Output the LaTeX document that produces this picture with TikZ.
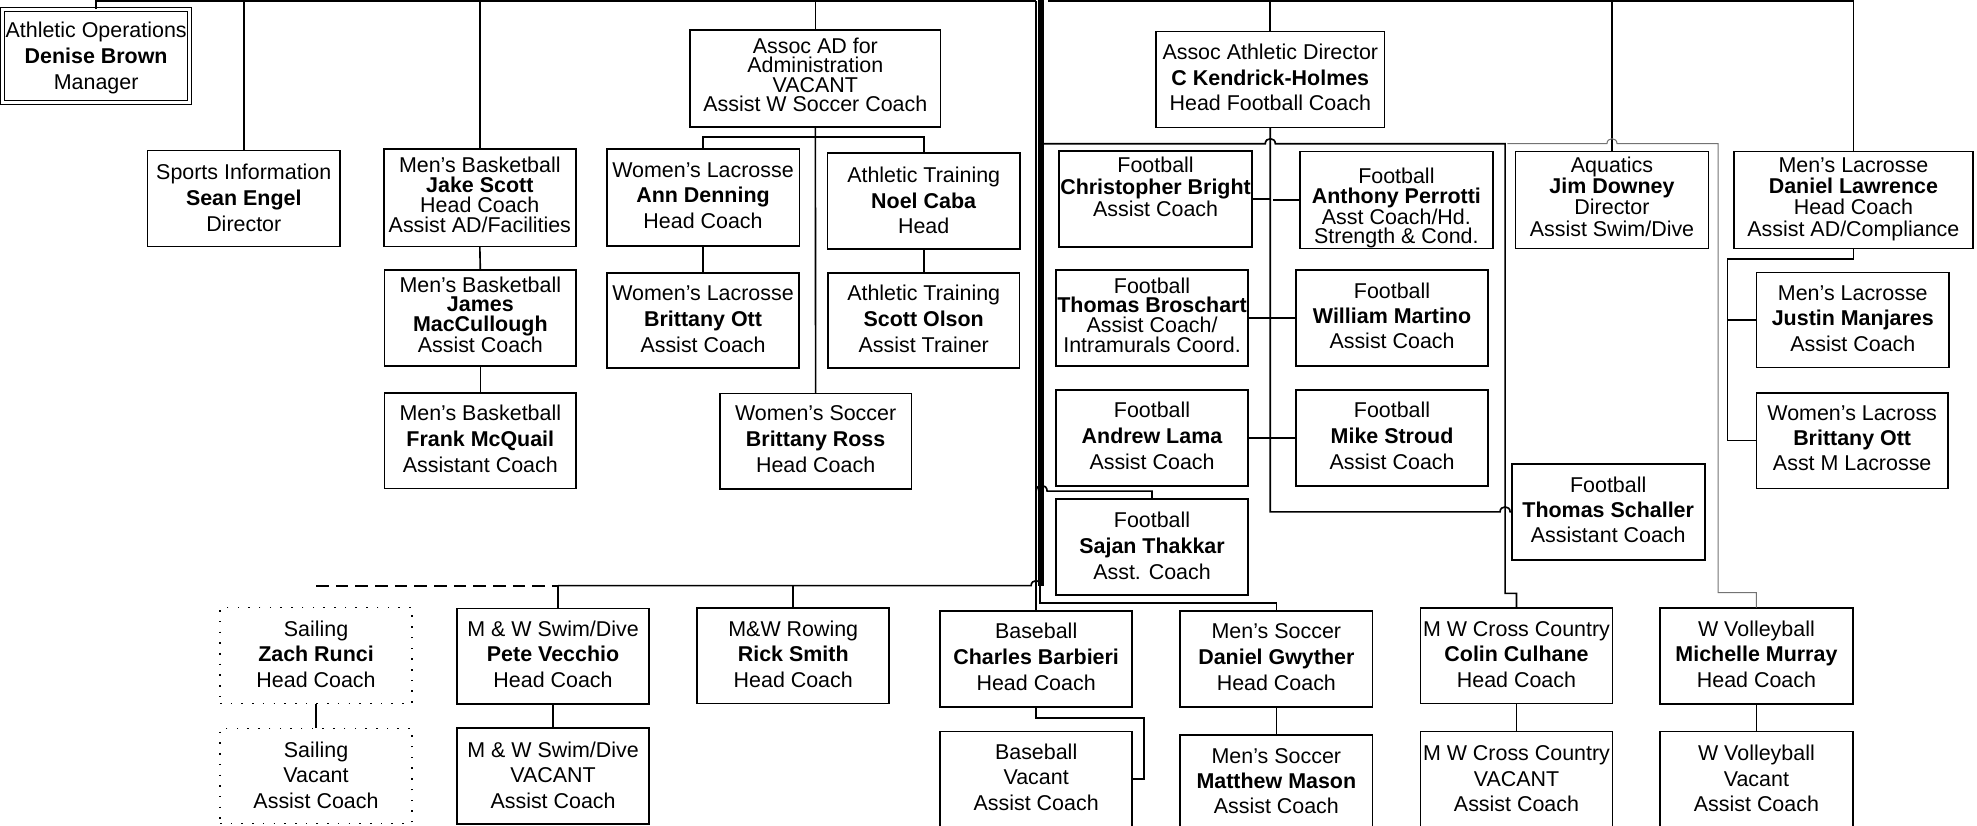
\documentclass[tikz,border=0pt]{standalone}
\usepackage{fontspec}
\setmainfont{Liberation Sans}
\tikzset{
  conn/.style={draw, line width=1.3pt},
  obox/.style={draw, line width=1.3pt, inner sep=0pt, outer sep=0pt},
  dbox/.style={draw, line width=1.1pt, double, double distance=2pt, inner sep=0pt, outer sep=0pt},
  sbox/.style={draw, line width=1.2pt, dash pattern=on 1.2pt off 7.3pt, inner sep=0pt, outer sep=0pt},
  txt/.style={align=center, inner sep=0pt, outer sep=0pt},
  heavyline/.style={line width=4.6pt},
  greyline/.style={draw=black!55, line width=0.8pt},
  dashbus/.style={line width=1.5pt, dash pattern=on 10pt off 5.6pt},
}
% #1 style, #2 name, #3 x1, #4 y1, #5 x2, #6 y2, #7 baselineskip, #8 text centre y, #9 text
\newcommand\ob[9]{%
  \node[#1, minimum width={(#5)-(#3)}, minimum height={(#6)-(#4)}] (#2) at ({((#3)+(#5))/2},{((#4)+(#6))/2}) {};
  \node[txt, font=\fontsize{17}{#7}\selectfont] (#2-t) at ({((#3)+(#5))/2},#8) {\rule{0pt}{12.5pt}#9\rule[-3.6pt]{0pt}{3.6pt}};
}
\begin{document}
\begin{tikzpicture}[x=1pt,y=-1pt]
\useasboundingbox (0,0) rectangle (1568,655);

% ---------- boxes ----------
\ob{dbox}{athops}{2.1}{7.5}{150.4}{81.2}{20.5}{45.85}{Athletic Operations\\\textbf{Denise Brown}\\Manager}
\ob{obox}{sinfo}{117}{119.5}{269.7}{195.6}{20.5}{158.55}{Sports Information\\\textbf{Sean Engel}\\Director}
\ob{obox}{jake}{304.4}{118.4}{456.7}{195.6}{16}{156.05}{Men’s Basketball\\\textbf{Jake Scott}\\Head Coach\\Assist AD/Facilities}
\ob{obox}{james}{304.9}{214.1}{457}{290.3}{15.5}{251.3}{Men’s Basketball\\\textbf{James}\\\textbf{MacCullough}\\Assist Coach}
\ob{obox}{frank}{304.9}{311.5}{457}{387.3}{20.5}{349.55}{Men’s Basketball\\\textbf{Frank McQuail}\\Assistant Coach}
\ob{obox}{assocad}{547.3}{23.8}{746}{100.5}{15.3}{61}{Assoc AD for\\Administration\\VACANT\\Assist W Soccer Coach}
\ob{obox}{wlaxa}{481.2}{118.4}{634}{195.1}{20.5}{156.55}{Women’s Lacrosse\\\textbf{Ann Denning}\\Head Coach}
\ob{obox}{ata}{656.2}{121.6}{809}{197.7}{20.5}{160.55}{Athletic Training\\\textbf{Noel Caba}\\Head}
\ob{obox}{wlaxb}{481.5}{216.3}{633.7}{292.1}{20.5}{254.55}{Women’s Lacrosse\\\textbf{Brittany Ott}\\Assist Coach}
\ob{obox}{atb}{656.5}{216.3}{808.7}{292.1}{20.5}{254.55}{Athletic Training\\\textbf{Scott Olson}\\Assist Trainer}
\ob{obox}{wsoc}{570.8}{312}{723}{388}{20.5}{349.55}{Women’s Soccer\\\textbf{Brittany Ross}\\Head Coach}
\ob{obox}{kendrick}{917}{25}{1098}{101}{20}{63.05}{Assoc Athletic Director\\\textbf{C Kendrick-Holmes}\\Head Football Coach}
\ob{obox}{bright}{840}{120}{993}{196}{17.5}{149.55}{Football\\\textbf{Christopher Bright}\\Assist Coach}
\ob{obox}{perrotti}{1031}{120.3}{1184}{197}{15.3}{165}{Football\\\textbf{Anthony Perrotti}\\Asst Coach/Hd.\\Strength \& Cond.}
\ob{obox}{broschart}{837.6}{214.1}{989.8}{290.3}{15.7}{251.6}{Football\\\textbf{Thomas Broschart}\\Assist Coach/\\Intramurals Coord.}
\ob{obox}{martino}{1027.9}{214.1}{1180.2}{290.3}{20}{252.05}{Football\\\textbf{William Martino}\\Assist Coach}
\ob{obox}{lama}{837.6}{309.3}{989.8}{385.5}{20.5}{347.55}{Football\\\textbf{Andrew Lama}\\Assist Coach}
\ob{obox}{stroud}{1027.9}{309.3}{1180.2}{385.5}{20.5}{347.55}{Football\\\textbf{Mike Stroud}\\Assist Coach}
\ob{obox}{thakkar}{837.6}{396}{989.8}{472}{20.5}{434.55}{Football\\\textbf{Sajan Thakkar}\\Asst. Coach}
\ob{obox}{schaller}{1199}{368}{1352}{444}{20}{406.05}{Football\\\textbf{Thomas Schaller}\\Assistant Coach}
\ob{obox}{aquatics}{1202}{120.3}{1355}{197}{17}{157.55}{Aquatics\\\textbf{Jim Downey}\\Director\\Assist Swim/Dive}
\ob{obox}{lawrence}{1375.3}{120.3}{1564.6}{197}{17}{157.55}{Men’s Lacrosse\\\textbf{Daniel Lawrence}\\Head Coach\\Assist AD/Compliance}
\ob{obox}{manjares}{1393}{216}{1546}{291.6}{20}{254.05}{Men’s Lacrosse\\\textbf{Justin Manjares}\\Assist Coach}
\ob{obox}{wlaxc}{1393}{311.5}{1545}{387.3}{20}{349.05}{Women’s Lacross\\\textbf{Brittany Ott}\\Asst M Lacrosse}
\ob{sbox}{saila}{174.5}{482}{326.8}{558}{20.5}{520.55}{Sailing\\\textbf{Zach Runci}\\Head Coach}
\ob{sbox}{sailb}{174.5}{577.7}{326.8}{653}{20.5}{616.55}{Sailing\\Vacant\\Assist Coach}
\ob{obox}{swima}{362.5}{482.5}{514.8}{558.4}{20.5}{520.55}{M \& W Swim/Dive\\\textbf{Pete Vecchio}\\Head Coach}
\ob{obox}{swimb}{362.5}{577.5}{514.8}{653.5}{20.5}{616.55}{M \& W Swim/Dive\\VACANT\\Assist Coach}
\ob{obox}{rowing}{553}{482}{705.3}{558}{20.5}{520.55}{M\&W Rowing\\\textbf{Rick Smith}\\Head Coach}
\ob{obox}{basea}{745.6}{484.6}{898}{560.5}{20.5}{522.55}{Baseball\\\textbf{Charles Barbieri}\\Head Coach}
\ob{obox}{baseb}{745.6}{580.3}{898}{662}{20}{618.05}{Baseball\\Vacant\\Assist Coach}
\ob{obox}{msoca}{936}{484.6}{1088.6}{560.5}{20.5}{522.55}{Men’s Soccer\\\textbf{Daniel Gwyther}\\Head Coach}
\ob{obox}{msocb}{936}{583}{1088.6}{662}{20}{621.05}{Men’s Soccer\\\textbf{Matthew Mason}\\Assist Coach}
\ob{obox}{xca}{1126.5}{482}{1279}{558}{20.5}{520.55}{M W Cross Country\\\textbf{Colin Culhane}\\Head Coach}
\ob{obox}{xcb}{1126.5}{580.3}{1279}{662}{20}{619.05}{M W Cross Country\\VACANT\\Assist Coach}
\ob{obox}{vba}{1316.6}{482}{1469.5}{558.4}{20.5}{520.55}{W Volleyball\\\textbf{Michelle Murray}\\Head Coach}
\ob{obox}{vbb}{1316.6}{580.3}{1469.5}{662}{20}{619.05}{W Volleyball\\Vacant\\Assist Coach}

% ---------- coordinates ----------
\coordinate (tl) at (821.8,1);
\coordinate (tr) at (831.5,1);
\coordinate (hvT) at (825.5,0);
\coordinate (hvB) at (825.5,464.5);
\coordinate (adbar) at (0,108.9);
\coordinate (fbl) at (828,114);
\coordinate (fbr) at (1193.7,114);
\coordinate (xcj) at (1193.7,470.6);
\coordinate (gs) at (1195.5,114);
\coordinate (gc) at (1362.7,114);
\coordinate (gb) at (1362.7,470);
\coordinate (sj) at (821.8,389.5);
\coordinate (busd) at (250.7,464.5);
\coordinate (swimj) at ([xshift=4pt]swima.north);
\coordinate (msj) at (825,478.5);
\coordinate (bl1) at (907.2,569.7);
\coordinate (bl2) at (907.2,617.9);
\coordinate (lj) at (1370,205.5);

% ---------- top buses ----------
\draw[conn] (athops.north) |- (tl);
\draw[conn] (sinfo.north) -- (sinfo.north |- tl);
\draw[conn] (jake.north) -- (jake.north |- tl);
\draw[conn] (assocad.north) -- (assocad.north |- tl);
\draw[conn] (tl) -- (basea.north);
\draw[heavyline] (hvT) -- (hvB);
\draw[conn] (tr) -| (lawrence.north);
\draw[conn] (kendrick.north) -- (kendrick.north |- tr);
\draw[conn] (aquatics.north) -- (aquatics.north |- tr);

% ---------- left group ----------
\draw[conn] (jake.south) -- (james.north);
\draw[conn] (james.south) -- (frank.north);
\draw[conn] (assocad.south) -- (wsoc.north);
\draw[conn] (wlaxa.north) |- (ata.north |- adbar) -- (ata.north);
\draw[conn] (wlaxa.south) -- (wlaxb.north);
\draw[conn] (ata.south) -- (atb.north);

% ---------- football ----------
\draw[conn] (fbl) -- (1003.5,114) .. controls (1003.5,108.7) and (1011.5,108.7) .. (1011.5,114) -- (fbr) -- (xcj) -| (xca.north);
\draw[conn] (kendrick.south) -- (kendrick.south |- schaller.west) -- (1189.7,406) .. controls (1189.7,400.7) and (1197.7,400.7) .. (1197.7,406) -- (schaller.west);
\draw[conn] (bright.east) -- (bright.east -| kendrick.south);
\draw[conn] (perrotti.west) -- ([xshift=2.5pt]perrotti.west -| kendrick.south);
\draw[conn] (broschart.east) -- (martino.west);
\draw[conn] (lama.east) -- (stroud.west);
\draw[conn] (sj) .. controls (821.8,383.5) and (830.5,383.5) .. (830.5,389.5) -| (thakkar.north);
\draw[greyline] (gs) -- (1274.5,114) .. controls (1274.5,108.7) and (1282.5,108.7) .. (1282.5,114) -- (gc) -- (gb) -| (vba.north);

% ---------- lacrosse ----------
\draw[conn] (lawrence.south) |- (lj) -- (lj |- wlaxc.west) -- (wlaxc.west);
\draw[conn] (lj |- manjares.west) -- (manjares.west);

% ---------- bottom bus ----------
\draw[dashbus] (busd) -- (swimj |- busd);
\draw[conn] (swimj |- busd) -- (817.8,464.5) .. controls (817.8,459.2) and (825.8,459.2) .. (825.8,464.5);
\draw[conn] (swimj) -- (swimj |- busd);
\draw[conn] (rowing.north) -- (rowing.north |- busd);
\draw[conn] (hvB -| msj) -- (msj) -| (msoca.north);
\draw[conn] (basea.south) |- (bl1) -- (bl2) -- (bl2 -| baseb.east);
\draw[conn] (saila.south) -- (sailb.north);
\draw[conn] (swima.south) -- (swimb.north);
\draw[conn] (msoca.south) -- (msocb.north);
\draw[conn] (xca.south) -- (xcb.north);
\draw[conn] (vba.south) -- (vbb.north);
\end{tikzpicture}
\end{document}
